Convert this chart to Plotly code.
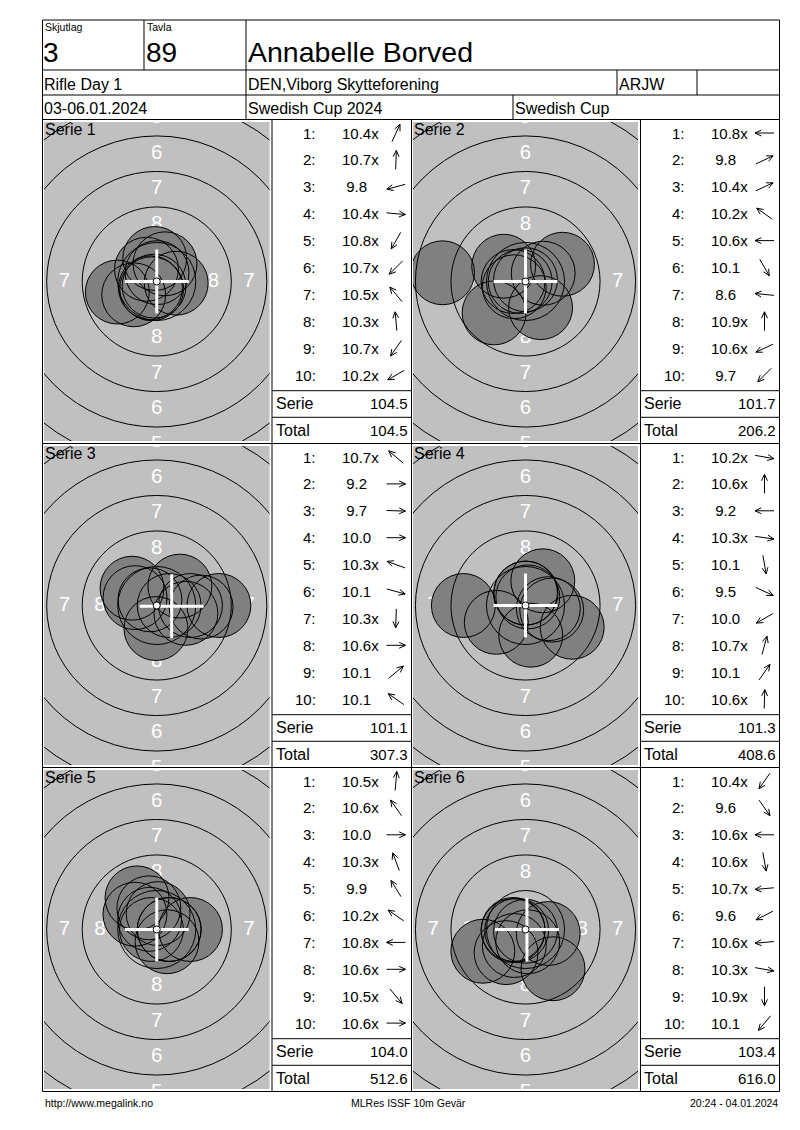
import math
import plotly.graph_objects as go

# the page body has an 8px margin, so the figure is drawn 8px in and all
# coordinates below are page pixels
PAGE_W, PAGE_H = 800, 1130
OFF = 8
W, H = PAGE_W - OFF, PAGE_H - OFF
FONT = "Liberation Sans, Arial, sans-serif"

# header / footer texts
group_label, group_value = "Skjutlag", "3"
lane_label, lane_value = "Tavla", "89"
shooter = "Annabelle Borved"
event = "Rifle Day 1"
club = "DEN,Viborg Skytteforening"
shooter_class = "ARJW"
dates = "03-06.01.2024"
competition = "Swedish Cup 2024"
cup = "Swedish Cup"
footer_left = "http://www.megalink.no"
footer_mid = "MLRes ISSF 10m Gevär"
footer_right = "20:24 - 04.01.2024"

series_names = ["Serie 1", "Serie 2", "Serie 3", "Serie 4", "Serie 5", "Serie 6"]
scores = [
    [10.4, 10.7, 9.8, 10.4, 10.8, 10.7, 10.5, 10.3, 10.7, 10.2],
    [10.8, 9.8, 10.4, 10.2, 10.6, 10.1, 8.6, 10.9, 10.6, 9.7],
    [10.7, 9.2, 9.7, 10.0, 10.3, 10.1, 10.3, 10.6, 10.1, 10.1],
    [10.2, 10.6, 9.2, 10.3, 10.1, 9.5, 10.0, 10.7, 10.1, 10.6],
    [10.5, 10.6, 10.0, 10.3, 9.9, 10.2, 10.8, 10.6, 10.5, 10.6],
    [10.4, 9.6, 10.6, 10.6, 10.7, 9.6, 10.6, 10.3, 10.9, 10.1],
]
# direction of each hit seen from the centre, degrees counter-clockwise from 3 o'clock
directions = [
    [65, 88, 195, 355, 240, 225, 130, 95, 235, 210],
    [180, 25, 25, 145, 180, 300, 174, 90, 205, 225],
    [140, 0, 358, 0, 160, 345, 268, 0, 40, 145],
    [350, 90, 180, 352, 280, 335, 210, 75, 55, 88],
    [85, 125, 0, 110, 122, 145, 180, 0, 310, 0],
    [235, 305, 180, 280, 185, 207, 185, 350, 270, 230],
]
# white cross (group centre) offset from the target centre, mm
cross_x = [0.0, 0.0, 1.05, 0.0, 0.0, 0.1]
cross_y = [0.0, 0.0, -0.05, 0.0, 0.0, 0.0]

# 10m air rifle target (mm)
ring_lines = [2.75, 5.25, 7.75, 10.25, 12.75]
ten_dot = 0.25
pellet = 2.25
ring_numbers = [8, 7, 6, 5]
ring_label_r = [4.0, 6.5, 9.0, 11.5]
PX_PER_MM = 14.2

# page grid (pixels)
LEFT, RIGHT, TOP, BOTTOM = 42.5, 779.5, 20, 1091.5
row_tops = [119.5, 443.5, 767.5]
grey_x = [(44, 269.5), (413, 638)]
score_cols = [(272, 411.5), (640.5, 779.5)]

shapes = []
annotations = []


def line(x0, y0, x1, y1):
    shapes.append(dict(type="line", xref="x", yref="y", x0=x0, y0=y0, x1=x1, y1=y1,
                       line=dict(color="black", width=1)))


def text(x, y, s, size, anchor="left", color="black"):
    annotations.append(dict(xref="x", yref="y", x=x, y=y, text=s, showarrow=False,
                            xanchor=anchor, yanchor="middle",
                            font=dict(family=FONT, size=size, color=color)))


def arrow(cx, cy, angle, length=19, head=7, spread=25):
    ux, uy = math.cos(math.radians(angle)), -math.sin(math.radians(angle))
    tx, ty = cx + ux * length / 2, cy + uy * length / 2
    bx, by = cx - ux * length / 2, cy - uy * length / 2
    arms = []
    for phi in (spread, -spread):
        p = math.radians(phi)
        rx = ux * math.cos(p) - uy * math.sin(p)
        ry = ux * math.sin(p) + uy * math.cos(p)
        arms.append((tx - head * rx, ty - head * ry))
    path = (f"M{bx:.2f},{by:.2f} L{tx:.2f},{ty:.2f} "
            f"M{arms[0][0]:.2f},{arms[0][1]:.2f} L{tx:.2f},{ty:.2f} L{arms[1][0]:.2f},{arms[1][1]:.2f}")
    shapes.append(dict(type="path", xref="x", yref="y", path=path,
                       line=dict(color="black", width=1)))


# frame
line(LEFT, TOP, RIGHT, TOP)
line(LEFT, BOTTOM, RIGHT, BOTTOM)
line(LEFT, TOP, LEFT, BOTTOM)
line(RIGHT, TOP, RIGHT, BOTTOM)
for y in [70, 95, 119.5, 443.5, 767.5]:
    line(LEFT, y, RIGHT, y)
line(144, TOP, 144, 70)
line(246, TOP, 246, 119.5)
line(617, 70, 617, 95)
line(697, 70, 697, 95)
line(513, 95, 513, 119.5)
for x in [272, 411.5, 640.5]:
    line(x, 119.5, x, BOTTOM)

# header texts
text(43, 27, group_label, 10.5)
text(145, 27, lane_label, 10.5)
text(41, 52, group_value, 28)
text(144, 52, lane_value, 28)
text(246, 52, shooter, 28.5)
text(42, 84, event, 16)
text(246, 84, club, 16)
text(617, 84, shooter_class, 16)
text(42, 108, dates, 16)
text(246, 108, competition, 16)
text(513, 108, cup, 16)

# footer
text(LEFT, 1102.5, footer_left, 10.5)
text(408, 1102.5, footer_mid, 10.5, anchor="center")
text(RIGHT, 1102.5, footer_right, 10.5, anchor="right")

fig = go.Figure()
fig.add_trace(go.Scatter(x=[], y=[], xaxis="x", yaxis="y", showlegend=False))


def px_x(p):
    return (p - OFF) / W


def px_y(p):
    return 1 - (p - OFF) / H


layout_axes = {}
total = 0.0
for i, name in enumerate(series_names):
    row, col = divmod(i, 2)
    top = row_tops[row]
    gx0, gx1 = grey_x[col]
    gy0, gy1 = top + 2.5, top + 321.5
    ax_id = i + 2
    xa, ya = f"x{ax_id}", f"y{ax_id}"
    half_w = (gx1 - gx0) / 2 / PX_PER_MM
    half_h = (gy1 - gy0) / 2 / PX_PER_MM
    layout_axes[f"xaxis{ax_id}"] = dict(domain=[px_x(gx0), px_x(gx1)], range=[-half_w, half_w],
                                        visible=False, fixedrange=True, anchor=ya)
    layout_axes[f"yaxis{ax_id}"] = dict(domain=[px_y(gy1), px_y(gy0)], range=[-half_h, half_h],
                                        visible=False, fixedrange=True, anchor=xa)

    shapes.append(dict(type="rect", xref=f"{xa} domain", yref=f"{ya} domain",
                       x0=0, x1=1, y0=0, y1=1, fillcolor="#c0c0c0", line_width=0, layer="below"))

    # ring numbers
    lx, ly, lt = [], [], []
    for num, r in zip(ring_numbers, ring_label_r):
        for dx, dy in [(0, 1), (0, -1), (-1, 0), (1, 0)]:
            if dx and r > half_w:
                continue
            lx.append(dx * r)
            ly.append(dy * r)
            lt.append(str(num))
    fig.add_trace(go.Scatter(x=lx, y=ly, text=lt, mode="text", xaxis=xa, yaxis=ya,
                             textfont=dict(family=FONT, size=20.5, color="white"),
                             cliponaxis=True, hoverinfo="skip", showlegend=False))

    # hits
    hx, hy = [], []
    for s, a in zip(scores[i], directions[i]):
        d = 2.5 * (10.95 - s)
        hx.append(d * math.cos(math.radians(a)))
        hy.append(d * math.sin(math.radians(a)))
    for x, y in zip(hx, hy):
        shapes.append(dict(type="circle", xref=xa, yref=ya, x0=x - pellet, x1=x + pellet,
                           y0=y - pellet, y1=y + pellet, fillcolor="#808080", line_width=0,
                           layer="above"))
    for x, y in zip(hx, hy):
        shapes.append(dict(type="circle", xref=xa, yref=ya, x0=x - pellet, x1=x + pellet,
                           y0=y - pellet, y1=y + pellet, line=dict(color="black", width=1),
                           layer="above"))
    for r in ring_lines:
        shapes.append(dict(type="circle", xref=xa, yref=ya, x0=-r, x1=r, y0=-r, y1=r,
                           line=dict(color="black", width=1), layer="above"))
    mx, my = cross_x[i], cross_y[i]
    shapes.append(dict(type="line", xref=xa, yref=ya, x0=mx - pellet, x1=mx + pellet, y0=my, y1=my,
                       line=dict(color="white", width=3), layer="above"))
    shapes.append(dict(type="line", xref=xa, yref=ya, x0=mx, x1=mx, y0=my - pellet, y1=my + pellet,
                       line=dict(color="white", width=3), layer="above"))
    shapes.append(dict(type="circle", xref=xa, yref=ya, x0=-ten_dot, x1=ten_dot, y0=-ten_dot, y1=ten_dot,
                       fillcolor="white", line=dict(color="black", width=1), layer="above"))

    text(gx0 - 1.5, top + 9.5, name, 16)

    # score list
    c0, c1 = score_cols[col]
    for k, (s, a) in enumerate(zip(scores[i], directions[i])):
        y = top + 13.5 + 26.9 * k
        text(c0 + 46, y, f"{k + 1}:", 15, anchor="right")
        label = ("\u00a0" if s < 10 else "") + f"{s:.1f}" + ("x" if s >= 10.15 else "")
        text(c0 + 68, y, label, 15)
        arrow(c0 + 124, y, a)
    line(c0, top + 271.2, c1, top + 271.2)
    line(c0, top + 297.8, c1, top + 297.8)
    serie = round(sum(scores[i]), 1)
    total = round(total + serie, 1)
    text(c0 + 1.5, top + 284, "Serie", 16)
    text(c1 - 2, top + 284, f"{serie:.1f}", 15, anchor="right")
    text(c0 + 1.5, top + 310.5, "Total", 16)
    text(c1 - 2, top + 310.5, f"{total:.1f}", 15, anchor="right")

fig.update_layout(
    width=W, height=H, margin=dict(l=0, r=0, t=0, b=0),
    paper_bgcolor="white", plot_bgcolor="rgba(0,0,0,0)",
    xaxis=dict(domain=[0, 1], range=[OFF, PAGE_W], visible=False, fixedrange=True),
    yaxis=dict(domain=[0, 1], range=[PAGE_H, OFF], visible=False, fixedrange=True),
    shapes=shapes, annotations=annotations, showlegend=False,
    **layout_axes,
)
fig.write_html("out.html")
